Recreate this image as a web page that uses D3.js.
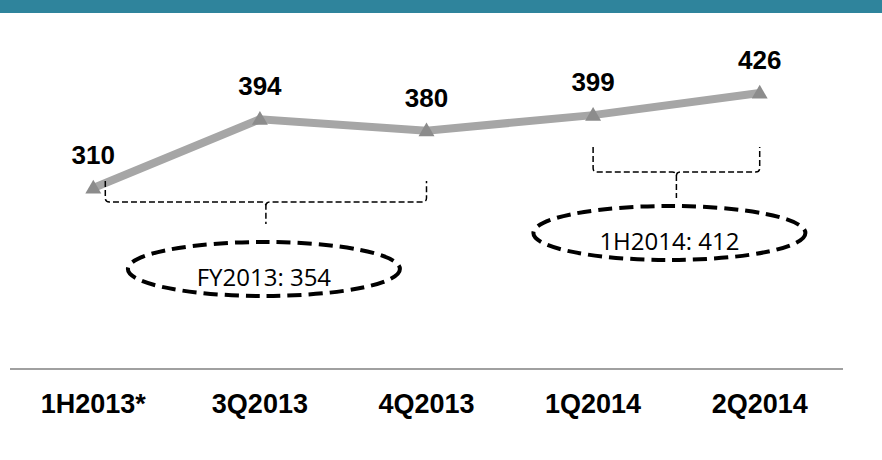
<!DOCTYPE html>
<html>
<head>
<meta charset="utf-8">
<script src="https://cdn.jsdelivr.net/npm/d3@7"></script>
<style>
  body { margin: 0; background: #fff; }
  #chart { width: 882px; height: 460px; }
</style>
</head>
<body>
<div id="chart"></div>
<script>
// 数据
var categories = ['1H2013*', '3Q2013', '4Q2013', '1Q2014', '2Q2014'];
var values = [310, 394, 380, 399, 426];
// 汇总括号
var groupLabels = ['FY2013: 354', '1H2014: 412'];
var groupFrom = [0, 3];
var groupTo = [2, 4];

var width = 882;
var height = 460;

var svg = d3.select('#chart').append('svg')
    .attr('width', width)
    .attr('height', height);

// 顶部色带
svg.append('rect')
    .attr('x', 0).attr('y', 0)
    .attr('width', width).attr('height', 13)
    .attr('fill', '#2f849c');

var x = d3.scaleBand()
    .domain(categories)
    .range([10, 843]);

var y = d3.scaleLinear()
    .domain([310, 426])
    .range([188, 93]);

function cx(i) {
    return x(categories[i]) + x.bandwidth() / 2;
}

// 底部轴线
svg.append('line')
    .attr('x1', 10).attr('x2', 843)
    .attr('y1', 369).attr('y2', 369)
    .attr('stroke', '#a0a0a0')
    .attr('stroke-width', 2);

// 类别标签
svg.selectAll('.cat')
    .data(categories)
    .enter()
    .append('text')
    .attr('class', 'cat')
    .attr('x', function (d) { return x(d) + x.bandwidth() / 2; })
    .attr('y', 413)
    .attr('text-anchor', 'middle')
    .attr('font-family', 'Liberation Sans, Arial, sans-serif')
    .attr('font-weight', 'bold')
    .attr('font-size', '27px')
    .attr('fill', '#000')
    .text(function (d) { return d; });

// 折线
var line = d3.line()
    .x(function (d, i) { return cx(i); })
    .y(function (d) { return y(d); });

svg.append('path')
    .datum(values)
    .attr('d', line)
    .attr('fill', 'none')
    .attr('stroke', '#a6a6a6')
    .attr('stroke-width', 8);

// 三角标记
svg.selectAll('.marker')
    .data(values)
    .enter()
    .append('path')
    .attr('class', 'marker')
    .attr('d', d3.symbol().type(d3.symbolTriangle).size(110))
    .attr('transform', function (d, i) { return 'translate(' + cx(i) + ',' + (y(d) + 1) + ')'; })
    .attr('fill', '#8c8c8c');

// 数值标签
svg.selectAll('.val')
    .data(values)
    .enter()
    .append('text')
    .attr('class', 'val')
    .attr('x', function (d, i) { return cx(i); })
    .attr('y', function (d) { return y(d) - 24; })
    .attr('text-anchor', 'middle')
    .attr('font-family', 'Liberation Sans, Arial, sans-serif')
    .attr('font-weight', 'bold')
    .attr('font-size', '26px')
    .attr('fill', '#000')
    .text(function (d) { return d; });

// 括号与椭圆的版式
var braceTop = [181, 147];
var braceMid = [202, 172];
var braceTip = [224, 198];
var braceInset = [12, 0];
var ellCy = [269, 233];
var ellDx = [-2, -7];

groupLabels.forEach(function (label, g) {
    var x0 = cx(groupFrom[g]) + braceInset[g];
    var x1 = cx(groupTo[g]);
    var c = (x0 + x1) / 2;
    var t = braceTop[g], h = braceMid[g], tip = braceTip[g];
    var r = 4;
    var p = 'M' + x0 + ',' + t + 'L' + x0 + ',' + (h - r) +
        'Q' + x0 + ',' + h + ' ' + (x0 + r) + ',' + h +
        'L' + (c - r) + ',' + h +
        'Q' + c + ',' + h + ' ' + c + ',' + (h + r) +
        'L' + c + ',' + tip +
        'M' + c + ',' + (h + r) +
        'Q' + c + ',' + h + ' ' + (c + r) + ',' + h +
        'L' + (x1 - r) + ',' + h +
        'Q' + x1 + ',' + h + ' ' + x1 + ',' + (h - r) +
        'L' + x1 + ',' + t;
    svg.append('path')
        .attr('d', p)
        .attr('fill', 'none')
        .attr('stroke', '#000')
        .attr('stroke-width', 1.5)
        .attr('stroke-dasharray', '6,3');

    var ex = c + ellDx[g];
    svg.append('ellipse')
        .attr('cx', ex)
        .attr('cy', ellCy[g])
        .attr('rx', 136)
        .attr('ry', 27)
        .attr('fill', 'none')
        .attr('stroke', '#000')
        .attr('stroke-width', 4)
        .attr('stroke-dasharray', '14,7');

    svg.append('text')
        .attr('x', ex)
        .attr('y', ellCy[g] + 17)
        .attr('text-anchor', 'middle')
        .attr('font-family', 'Open Sans, Noto Sans, sans-serif')
        .attr('font-size', '24px')
        .attr('fill', '#000')
        .text(label);
});
</script>
</body>
</html>
